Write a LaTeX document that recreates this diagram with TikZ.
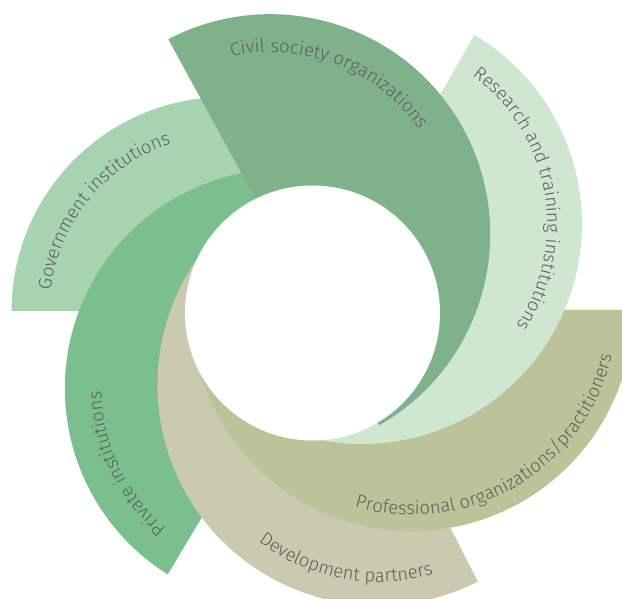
\documentclass[tikz,border=0pt]{standalone}
\usepackage{fontspec}
\usepackage{tikz}
\usetikzlibrary{decorations.text}
\newfontfamily\petalfont{Fira Sans Light}
\definecolor{govgreen}{HTML}{A7D3B0}
\definecolor{privgreen}{HTML}{7BBF8E}
\definecolor{devbeige}{HTML}{CBC9B0}
\definecolor{proolive}{HTML}{BDC399}
\definecolor{resgreen}{HTML}{CFE6D1}
\definecolor{civgreen}{HTML}{7FB28A}
\definecolor{labelgray}{HTML}{5E5E5E}

\begin{document}
\begin{tikzpicture}[x=1pt,y=1pt,
      petal label/.style={decorate,
        decoration={text along path, text align=center, text color=labelgray,
          text={|\petalfont\fontsize{18.5}{22}\selectfont|#1}}}]

      \useasboundingbox (0,0) rectangle (622,599);
      \clip (0,0) rectangle (622,599);

      \coordinate (hub) at (312.5,286);
      \coordinate (gov) at (225.6,288);
      \coordinate (priv) at (284.4,210.5);
      \coordinate (dev) at (378,214);
      \coordinate (prof) at (412,289);
      \coordinate (res) at (362,375);
      \coordinate (civ) at (270.2,364.8);

      % petals, bottom layer first
      \fill[govgreen] (gov) ++(180:214) arc[start angle=180, end angle=0, radius=214] -- cycle;
      \fill[privgreen] (priv) ++(-122.1:219.5) arc[start angle=-122.1, end angle=-299.5, radius=219.5] -- cycle;
      \fill[devbeige] (dev) ++(-63.1:220.5) arc[start angle=-63.1, end angle=-243.1, radius=220.5] -- cycle;
      \fill[proolive] (prof) ++(0:221) arc[start angle=0, end angle=-180, radius=221] -- cycle;
      \fill[resgreen] (res) ++(59.3:220) arc[start angle=59.3, end angle=-118.6, radius=220] -- cycle;
      \fill[civgreen] (civ) ++(117.6:220) arc[start angle=117.6, end angle=-60.3, radius=220] -- cycle;

      \fill[white] (hub) circle[radius=127.5];

      % labels
      \path[petal label={Civil society organizations}]
        (civ) ++(143.7:182) arc[start angle=143.7, end angle=-6.3, radius=182];
      \path[petal label={Research and training institutions}]
        (res) ++(85:185) arc[start angle=85, end angle=-65, radius=185];
      \path[petal label={Government institutions}]
        (gov) ++(200.6:176) arc[start angle=200.6, end angle=80.6, radius=176];
      \path[petal label={Private institutions}]
        (priv) ++(-104.6:183) arc[start angle=-104.6, end angle=-204.6, radius=183];
      \path[petal label={Professional organizations/practitioners}]
        (prof) ++(-134.5:205) arc[start angle=-134.5, end angle=15.5, radius=205];
      \path[petal label={Development partners}]
        (dev) ++(-150.5:197) arc[start angle=-150.5, end angle=-50.5, radius=197];
    \end{tikzpicture}
\end{document}
